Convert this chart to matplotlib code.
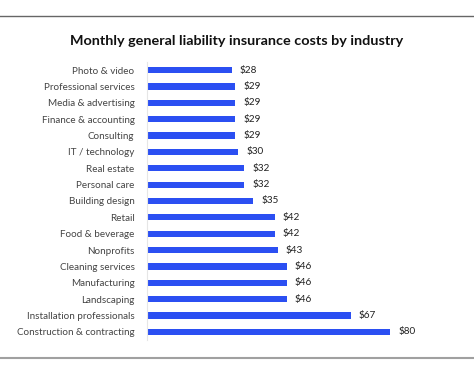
import matplotlib
matplotlib.use("Agg")
import matplotlib.pyplot as plt
from matplotlib.lines import Line2D

plt.rcParams['font.family'] = ['Lato', 'DejaVu Sans']

# --- DATA ---
industries = [
    "Photo & video", "Professional services", "Media & advertising",
    "Finance & accounting", "Consulting", "IT / technology", "Real estate",
    "Personal care", "Building design", "Retail", "Food & beverage",
    "Nonprofits", "Cleaning services", "Manufacturing", "Landscaping",
    "Installation professionals", "Construction & contracting",
]
costs = [28, 29, 29, 29, 29, 30, 32, 32, 35, 42, 42, 43, 46, 46, 46, 67, 80]

W, H = 474, 375
fig = plt.figure(figsize=(W / 100, H / 100), dpi=100)
fig.patch.set_facecolor("white")

# axes placed in pixel terms
left, right, top, bottom = 147, 451, 62, 340
ax = fig.add_axes([left / W, 1 - bottom / H, (right - left) / W, (bottom - top) / H])

pos = list(range(len(industries)))
ax.barh(pos, costs, height=0.38, color="#2b4ff2")
for p, v in zip(pos, costs):
    ax.text(v + 2.6, p, f"${v}", va="center", ha="left", fontsize=7.2, color="#222222")

ax.set_xlim(0, 100)
ax.set_ylim(len(industries) - 0.5, -0.5)
ax.set_yticks(pos)
ax.set_yticklabels(industries, fontsize=7.1, color="#444444")
ax.tick_params(axis="y", length=0, pad=9)
ax.set_xticks([])
for s in ["top", "right", "bottom"]:
    ax.spines[s].set_visible(False)
ax.spines["left"].set_color("#e6e6e6")
ax.spines["left"].set_linewidth(0.8)

fig.text(0.5, 1 - 41 / H, "Monthly general liability insurance costs by industry",
         ha="center", va="center", fontsize=10.4, fontweight="bold", color="#111111")

# frame lines top and bottom
fig.add_artist(Line2D([0, 1], [1 - 16 / H, 1 - 16 / H], color="#666666", linewidth=1.0,
                      transform=fig.transFigure))
fig.add_artist(Line2D([0, 1], [1 - 358 / H, 1 - 358 / H], color="#a0a0a0", linewidth=1.5,
                      transform=fig.transFigure))

fig.savefig("out.png", dpi=100)
